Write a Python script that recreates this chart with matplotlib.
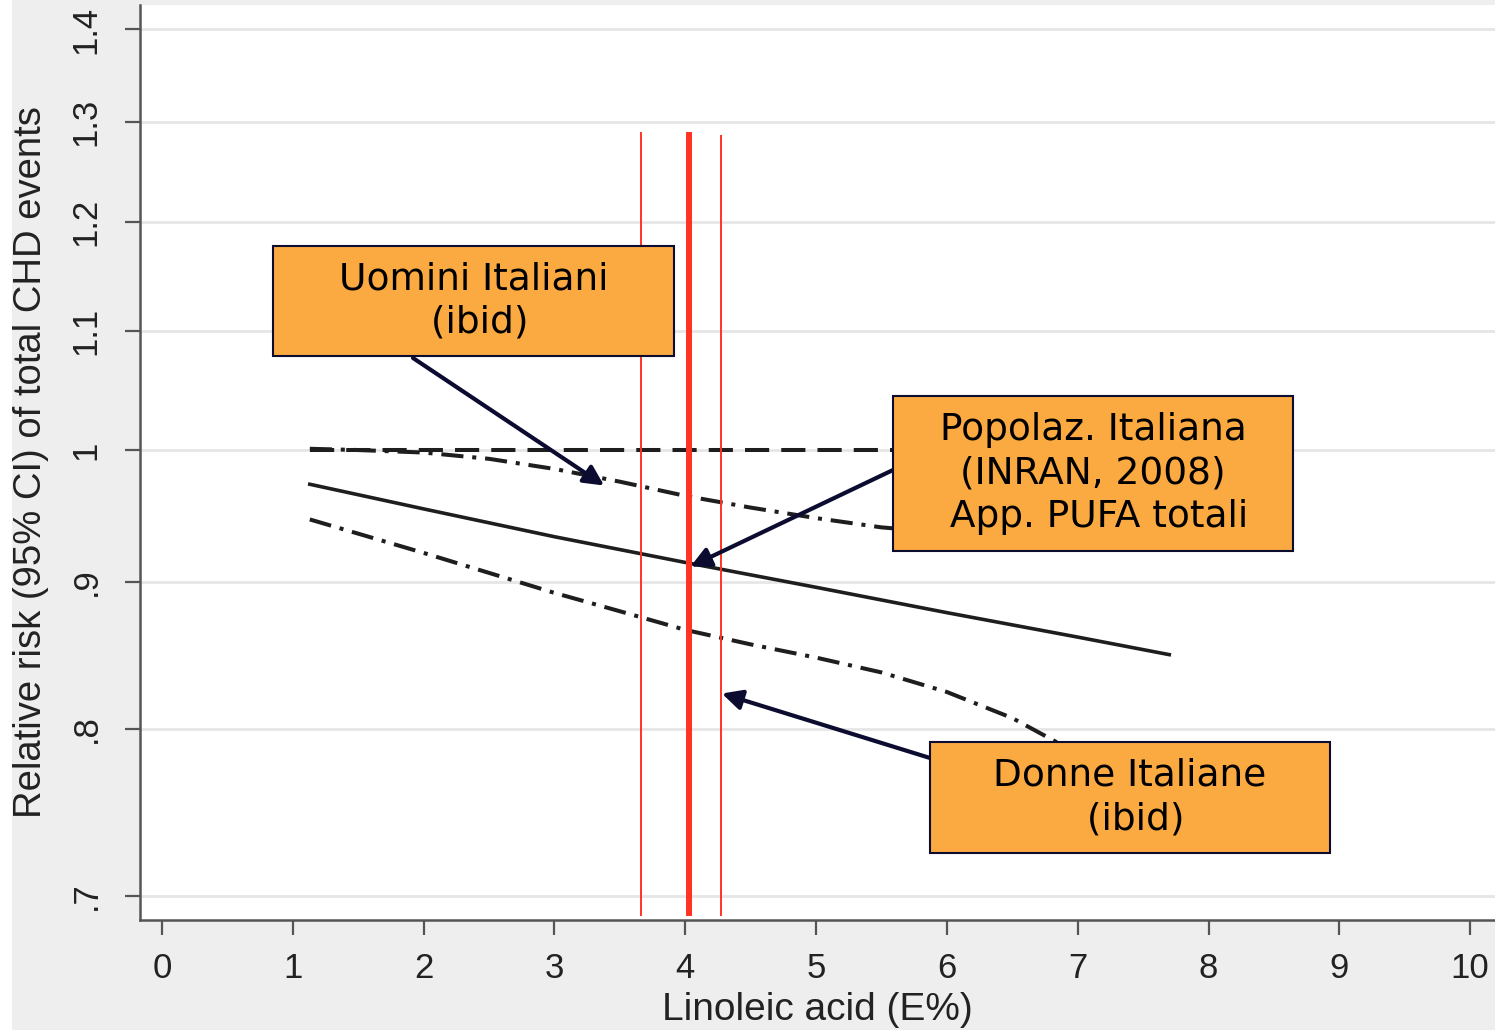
import numpy as np
import matplotlib
matplotlib.use("Agg")
import matplotlib.pyplot as plt
from matplotlib.patches import Rectangle

# ---- data ----
x_fit = [1.13, 2.0, 3.0, 4.0, 5.0, 6.0, 7.0, 7.7]
rr_fit = [0.973, 0.954, 0.933, 0.914, 0.896, 0.878, 0.861, 0.849]

x_up = [1.13, 1.5, 2.0, 2.5, 3.0, 3.5, 4.0, 4.5, 5.0, 5.5, 6.0, 7.0, 7.7]
rr_up = [1.001, 1.000, 0.998, 0.993, 0.985, 0.975, 0.964, 0.955, 0.947, 0.940, 0.936, 0.930, 0.927]

x_lo = [1.13, 2.0, 3.0, 3.5, 4.0, 4.5, 5.0, 5.5, 6.0, 6.5, 6.83, 7.0, 7.7]
rr_lo = [0.946, 0.921, 0.892, 0.879, 0.866, 0.856, 0.847, 0.837, 0.824, 0.807, 0.792, 0.783, 0.756]

x_ref = [1.13, 7.7]
rr_ref = [1.0, 1.0]

vlines_x = [3.66, 4.03, 4.27]
vlines_w = [1.4, 4.3, 1.4]
vlines_top = [1.29, 1.29, 1.287]
vlines_bottom = 0.689

xticks = list(range(0, 11))
yticks = [0.7, 0.8, 0.9, 1.0, 1.1, 1.2, 1.3, 1.4]
ytick_labels = [".7", ".8", ".9", "1", "1.1", "1.2", "1.3", "1.4"]

boxes = [
    # (left px, top px, right px, bottom px, text, arrow tail px, arrow tip data)
    (273, 246, 674, 356, "Uomini Italiani\n (ibid)", (413, 358), (3.38, 0.972)),
    (893, 396, 1293, 551, "Popolaz. Italiana\n(INRAN, 2008)\n App. PUFA totali", (893, 470), (4.04, 0.911)),
    (930, 742, 1330, 853, "Donne Italiane\n (ibid)", (930, 758), (4.28, 0.823)),
]

W, H = 1495, 1030
fig = plt.figure(figsize=(W / 100, H / 100), dpi=100, facecolor="#eeeeee")
fig.patches.append(Rectangle((0, 0), 12 / W, 1, transform=fig.transFigure,
                             facecolor="white", edgecolor="none", zorder=0))
ax = fig.add_axes([140 / W, 1 - 920 / H, (W - 140) / W, (920 - 5) / H])
ax.set_facecolor("white")

line_col = "#1e1e1e"
ax.plot(x_ref, rr_ref, color=line_col, lw=2.9, linestyle=(0, (6, 3)), zorder=3)
ax.plot(x_up, rr_up, color=line_col, lw=2.9, linestyle=(0, (5.5, 2.2, 1.0, 2.2)), zorder=3)
ax.plot(x_lo, rr_lo, color=line_col, lw=2.9, linestyle=(0, (5.5, 2.2, 1.0, 2.2)), zorder=3)
ax.plot(x_fit, rr_fit, color=line_col, lw=2.6, zorder=3)

for xv, wv, tv in zip(vlines_x, vlines_w, vlines_top):
    ax.vlines(xv, vlines_bottom, tv, color="#ff3322", lw=wv, zorder=4)

ax.set_yscale("log")
ax.set_xlim(-0.168, 10.19)
ax.set_ylim(0.6866, 1.4277)
ax.set_yticks(yticks)
ax.set_yticklabels(ytick_labels, rotation=90, va="center")
ax.yaxis.set_minor_locator(matplotlib.ticker.NullLocator())
ax.set_xticks(xticks)
ax.set_xticklabels([str(t) for t in xticks])

for lab in ax.get_xticklabels() + ax.get_yticklabels():
    lab.set_fontfamily("Liberation Sans")
    lab.set_fontsize(25)
    lab.set_color("#222222")

ax.tick_params(axis="both", direction="out", length=11, width=1.6, color="#555555")
ax.tick_params(axis="x", pad=12)
ax.tick_params(axis="y", pad=16)

ax.grid(axis="y", color="#e6e6e6", lw=2)
ax.set_axisbelow(True)
for s in ["top", "right"]:
    ax.spines[s].set_visible(False)
for s in ["left", "bottom"]:
    ax.spines[s].set_color("#555555")
    ax.spines[s].set_linewidth(1.8)

ax.set_ylabel("Relative risk (95% CI) of total CHD events", fontfamily="Liberation Sans",
              fontsize=27.5, color="#222222", labelpad=15)
ax.set_xlabel("Linoleic acid (E%)", fontfamily="Liberation Sans", fontsize=28,
              color="#222222", labelpad=5)

navy = "#0c0c30"
for (l, t, r, b, txt, tail, tip) in boxes:
    fig.patches.append(Rectangle((l / W, 1 - b / H), (r - l) / W, (b - t) / H,
                                 transform=fig.transFigure, facecolor="#fba941",
                                 edgecolor=navy, lw=1.5, zorder=5))
    fig.text((l + r) / 2 / W, 1 - (t + b) / 2 / H, txt, ha="center", va="center",
             fontfamily="DejaVu Sans", fontsize=27, color="black", zorder=6,
             linespacing=1.27)
    ax.annotate("", xy=tip, xycoords="data",
                xytext=(tail[0] / W, 1 - tail[1] / H), textcoords="figure fraction",
                arrowprops=dict(arrowstyle="-|>", color=navy, lw=3,
                                mutation_scale=30, shrinkA=0, shrinkB=0),
                zorder=6)

fig.savefig("out.png", dpi=100, facecolor=fig.get_facecolor())
